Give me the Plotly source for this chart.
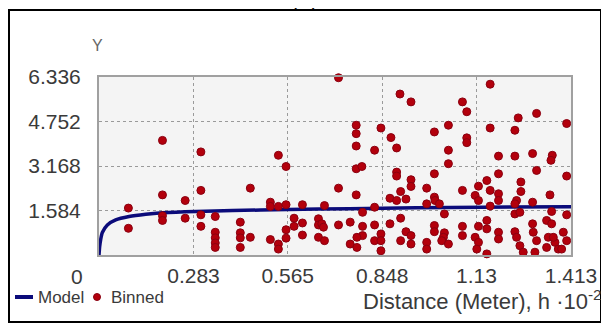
import plotly.graph_objects as go

# ---------------- data ----------------
x_ticks = [0.283, 0.565, 0.848, 1.13, 1.413]
x_tick_labels = ["0.283", "0.565", "0.848", "1.13", "1.413"]
y_ticks = [1.584, 3.168, 4.752, 6.336]
y_tick_labels = ["1.584", "3.168", "4.752", "6.336"]

model_h = [0, 0.002, 0.005, 0.01, 0.025, 0.05, 0.09, 0.14, 0.19, 0.29, 0.40,
           0.565, 0.75, 0.95, 1.15, 1.413]
model_gamma = [0, 0.30, 0.55, 0.80, 1.07, 1.25, 1.37, 1.45, 1.50, 1.55, 1.58,
               1.62, 1.65, 1.68, 1.70, 1.72]

binned_h = [
    0.19, 0.305, 0.305, 0.19, 0.258, 0.088, 0.088, 0.19, 0.19, 0.258, 0.305, 0.305,
    0.348, 0.348, 0.348, 0.348, 0.348,
    0.537, 0.560, 0.453, 0.513, 0.513, 0.537, 0.560, 0.609, 0.675, 0.423, 0.423,
    0.423, 0.423, 0.453, 0.513, 0.537, 0.537, 0.560, 0.560, 0.584, 0.584, 0.609,
    0.609, 0.657, 0.657, 0.667, 0.672, 0.657, 0.675,
    0.717, 0.901, 0.934, 0.770, 0.770, 0.844, 1.004, 1.046, 0.874, 0.770, 0.825,
    0.891, 1.046, 1.046, 0.770, 0.787, 0.891, 0.891, 1.004, 0.934, 0.934, 0.717,
    0.770, 0.981, 0.903, 0.871, 0.891, 0.919, 1.004, 1.006, 0.981, 1.019, 1.034,
    0.825, 0.789, 0.717, 0.752, 0.789, 0.825, 0.871, 0.903, 0.789, 0.772, 0.752,
    0.772, 0.825, 0.844, 0.844, 0.844, 0.919, 0.934, 0.934, 0.903, 0.981, 0.981,
    1.004, 1.004, 1.034, 1.031, 1.026, 1.046,
    1.171, 1.088, 1.101, 1.255, 1.310, 1.400, 1.171, 1.245, 1.101, 1.101, 1.196,
    1.245, 1.298, 1.357, 1.353, 1.310, 1.400, 1.196, 1.161, 1.136, 1.088, 1.171,
    1.196, 1.196, 1.263, 1.263, 1.250, 1.245, 1.126, 1.136, 1.350, 1.298, 1.171,
    1.245, 1.260, 1.400, 1.355, 1.088, 1.161, 1.136, 1.161, 1.088, 1.126, 1.136,
    1.131, 1.161, 1.196, 1.196, 1.245, 1.250, 1.260, 1.270, 1.298, 1.300, 1.310,
    1.305, 1.340, 1.355, 1.345, 1.365, 1.375, 1.340, 1.360, 1.390, 1.400, 1.385,
]
binned_gamma = [
    4.08, 3.67, 2.30, 2.14, 1.94, 1.67, 0.95, 1.40, 1.23, 1.31, 1.43, 1.02,
    1.37, 0.81, 0.61, 0.43, 0.27,
    3.55, 3.15, 2.38, 1.88, 1.73, 1.73, 1.79, 1.79, 1.76, 1.17, 0.79,
    0.61, 0.27, 0.63, 0.55, 0.39, 0.21, 0.90, 0.60, 1.31, 1.02, 1.14,
    0.71, 1.29, 1.07, 1.11, 0.99, 0.63, 0.51,
    6.31, 5.73, 5.45, 4.62, 4.32, 4.52, 4.38, 4.62, 4.18, 3.88, 3.73,
    3.81, 3.73, 3.25, 3.07, 3.15, 2.95, 2.81, 2.89, 2.68, 2.44, 2.38,
    2.14, 2.38, 2.26, 2.02, 1.94, 1.99, 2.06, 1.94, 1.82, 1.82, 1.46,
    1.70, 1.52, 1.07, 1.17, 1.02, 1.07, 1.11, 1.31, 0.69, 0.63, 0.39,
    0.27, 0.51, 0.75, 0.51, 0.15, 0.83, 0.69, 0.39, 0.51, 0.45, 0.21,
    1.05, 0.83, 0.79, 0.63, 0.51, 0.39,
    6.08, 5.45, 5.10, 4.88, 5.04, 4.68, 4.52, 4.44, 4.17, 4.00, 3.52,
    3.52, 3.61, 3.55, 3.37, 3.01, 2.81, 2.89, 2.65, 2.45, 2.30, 2.30,
    2.18, 1.94, 2.60, 2.26, 1.94, 1.82, 2.12, 1.94, 2.14, 1.88, 1.74,
    1.46, 1.52, 1.43, 1.55, 1.02, 1.23, 1.02, 0.93, 0.69, 0.63, 0.45,
    0.21, 0.04, 0.81, 0.57, 0.83, 0.63, 0.33, 0.10, 1.11, 0.81, 0.51,
    0.10, 1.23, 1.11, 0.63, 0.45, 0.21, 0.27, 0.63, 0.81, 0.51, 0.21,
]

# ---------------- figure ----------------
FONT = "Liberation Sans, Arial, sans-serif"
TXT = "#3a3a3a"
NAVY = "#0b0b7a"
RED = "#b3000c"

# The page body keeps its default 8px margin, so the figure starts at (8, 8)
# in the browser window; positions below are given in window pixels.
OFF = 8
W, H = 609 - OFF, 330 - OFF
PL, PR, PT, PB = 99, 571, 77, 255          # plot area in window pixels
L, R, T, B = PL - OFF, 609 - PR, PT - OFF, 330 - PB
pw, ph = PR - PL, PB - PT


def px(xw):
    return (xw - PL) / pw


def py(yw):
    return (PB - yw) / ph


fig = go.Figure()
fig.add_trace(go.Scatter(
    x=model_h, y=model_gamma, mode="lines", name="Model",
    line=dict(color=NAVY, width=3.5, shape="spline", smoothing=0.6),
))
fig.add_trace(go.Scatter(
    x=binned_h, y=binned_gamma, mode="markers", name="Binned",
    marker=dict(color=RED, size=8, line=dict(color="#8a0010", width=1)),
    cliponaxis=False,
))

LEG_Y = 297
fig.update_layout(
    width=W, height=H,
    margin=dict(l=L, r=R, t=T, b=B, pad=0, autoexpand=False),
    paper_bgcolor="white",
    plot_bgcolor="#f4f4f4",
    font=dict(family=FONT, color=TXT, size=17),
    showlegend=False,
    xaxis=dict(
        range=[0, 1.413], autorange=False, automargin=False,
        tickvals=x_ticks, ticktext=x_tick_labels,
        showgrid=True, gridcolor="#9a9a9a", griddash="dot", gridwidth=1,
        zeroline=False, showline=True, linecolor="#a0a0a0", linewidth=2, mirror=True,
        ticks="outside", ticklen=1, tickcolor="rgba(0,0,0,0)",
        tickfont=dict(family=FONT, size=21, color=TXT),
    ),
    yaxis=dict(
        range=[0, 6.336], autorange=False, automargin=False,
        tickvals=y_ticks, ticktext=y_tick_labels,
        showgrid=True, gridcolor="#9a9a9a", griddash="dot", gridwidth=1,
        zeroline=False, showline=True, linecolor="#a0a0a0", linewidth=2, mirror=True,
        ticks="outside", ticklen=12, tickcolor="rgba(0,0,0,0)",
        tickfont=dict(family=FONT, size=21, color=TXT),
    ),
    shapes=[
        dict(type="rect", xref="paper", yref="paper",
             x0=px(9), x1=px(601), y0=py(322), y1=py(10),
             line=dict(color="black", width=2), fillcolor="rgba(0,0,0,0)", layer="above"),
        # legend key: Model line
        dict(type="line", xref="paper", yref="paper",
             x0=px(15), x1=px(33), y0=py(LEG_Y), y1=py(LEG_Y),
             line=dict(color=NAVY, width=4)),
        # legend key: Binned dot
        dict(type="circle", xref="paper", yref="paper",
             x0=px(93.5), x1=px(100.5), y0=py(LEG_Y + 3.5), y1=py(LEG_Y - 3.5),
             line=dict(color="#8a0010", width=1), fillcolor=RED),
    ],
    annotations=[
        dict(text="0", xref="paper", yref="paper", x=px(77), y=py(276),
             xanchor="center", yanchor="middle", showarrow=False,
             font=dict(family=FONT, size=21, color=TXT)),
        dict(text="Y", xref="paper", yref="paper", x=px(97), y=py(46),
             xanchor="center", yanchor="middle", showarrow=False,
             font=dict(family=FONT, size=16, color="#666666")),
        dict(text="(c)", xref="paper", yref="paper", x=px(304), y=py(13),
             xanchor="center", yanchor="bottom", showarrow=False,
             font=dict(family="Liberation Serif, Times New Roman, serif", size=24, color="black")),
        dict(text="Model", xref="paper", yref="paper", x=px(36), y=py(LEG_Y),
             xanchor="left", yanchor="middle", showarrow=False,
             font=dict(family=FONT, size=17, color=TXT)),
        dict(text="Binned", xref="paper", yref="paper", x=px(109), y=py(LEG_Y),
             xanchor="left", yanchor="middle", showarrow=False,
             font=dict(family=FONT, size=17, color=TXT)),
        dict(text="Distance (Meter), h \u00b710<sup>-2</sup>", xref="paper", yref="paper",
             x=px(604), y=py(LEG_Y + 3), xanchor="right", yanchor="middle", showarrow=False,
             font=dict(family=FONT, size=22, color=TXT)),
    ],
)

fig.write_html("out.html")
